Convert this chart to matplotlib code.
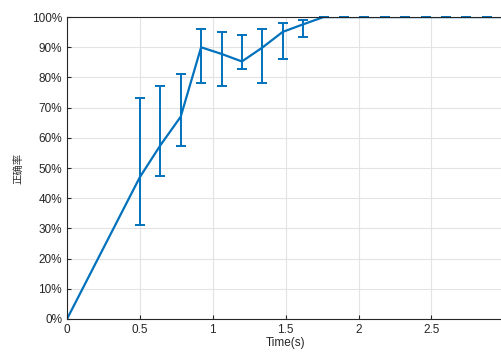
import matplotlib
matplotlib.use("Agg")
import matplotlib.pyplot as plt
from matplotlib.ticker import FuncFormatter

# time points (s) and accuracy (%)
t = [0, 0.5, 0.64, 0.78, 0.92, 1.06, 1.2, 1.34, 1.48, 1.62, 1.76,
     1.9, 2.04, 2.18, 2.32, 2.46, 2.6, 2.74, 2.88, 3.02]
acc = [0, 47, 57.5, 67, 90, 87.8, 85.3, 89.9, 95.1, 97.6, 100,
       100, 100, 100, 100, 100, 100, 100, 100, 100]
upper = [0, 73.2, 77.2, 81, 96.1, 95.1, 94.1, 96.1, 98.2, 99.1, 100,
         100, 100, 100, 100, 100, 100, 100, 100, 100]
lower = [0, 31.2, 47.4, 57.2, 78.2, 77.2, 82.8, 78.3, 86.2, 93.4, 100,
         100, 100, 100, 100, 100, 100, 100, 100, 100]

err_lo = [a - l for a, l in zip(acc, lower)]
err_hi = [u - a for a, u in zip(acc, upper)]

plt.rcParams['font.family'] = ['Liberation Sans', 'DejaVu Sans']

fig = plt.figure(figsize=(5.02, 3.56), dpi=100)
ax = fig.add_axes([0.1335, 0.104, 0.871, 0.848])

eb = ax.errorbar(t[1:], acc[1:], yerr=[err_lo[1:], err_hi[1:]], fmt='none',
                 ecolor='#0072BD', elinewidth=1.4, capsize=3.5, capthick=1.4)
for cap in eb[1]:
    cap.set_clip_on(False)
ax.plot(t, acc, color='#0072BD', lw=1.6)

ax.set_xlim(0, 3)
ax.set_ylim(0, 100)
ax.set_xticks([0, 0.5, 1, 1.5, 2, 2.5, 3])
ax.set_xticklabels(['0', '0.5', '1', '1.5', '2', '2.5', '3'])
ax.set_yticks(range(0, 101, 10))
ax.yaxis.set_major_formatter(FuncFormatter(lambda v, p: '%d%%' % v))

ax.grid(True, color='#e3e3e3', lw=0.8)
ax.set_axisbelow(True)
ax.tick_params(direction='in', length=3, width=0.8, colors='#262626',
               labelsize=8.5, top=False, right=False)
for s in ax.spines.values():
    s.set_color('#262626')
    s.set_linewidth(0.8)

ax.set_xlabel('Time(s)', fontsize=8.5, color='#262626', labelpad=1)
ax.set_ylabel('正确率', fontsize=7.5, color='#333333',
              family=['Noto Sans CJK SC', 'DejaVu Sans'], labelpad=6)

fig.savefig('out.png', dpi=100)
